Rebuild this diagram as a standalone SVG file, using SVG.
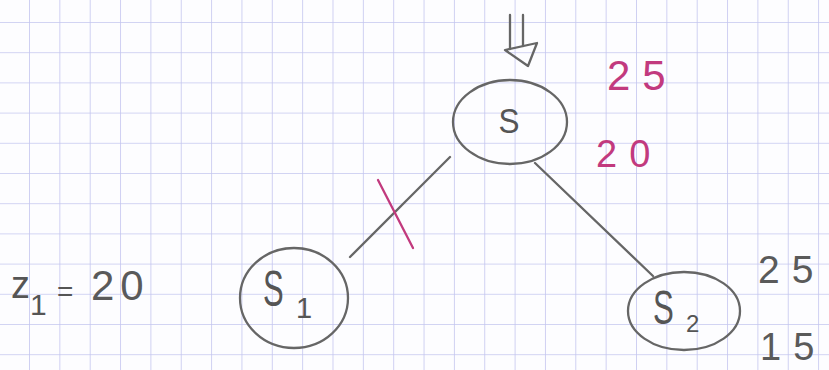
<svg xmlns="http://www.w3.org/2000/svg" width="829" height="370" viewBox="0 0 829 370">
<defs>
<pattern id="grid" x="29" y="22" width="30.35" height="30.2" patternUnits="userSpaceOnUse">
<path d="M0 0V30.2M0 0H30.35" fill="none" stroke="#c4c6ef" stroke-width="1.6"/>
</pattern>
</defs>
<style>
.pencil{fill:none;stroke:#666;stroke-width:2.3;stroke-linecap:round;stroke-linejoin:round}
.pen{fill:none;stroke:#c23a7e;stroke-width:2.3;stroke-linecap:round}
.lbl{font-family:"Liberation Sans",Arial,sans-serif;fill:#555;}
.mag{font-family:"Liberation Sans",Arial,sans-serif;fill:#c23a7e;letter-spacing:12px}
.num{font-family:"Liberation Sans",Arial,sans-serif;fill:#5a5a5a;letter-spacing:12px}
</style>
<rect width="829" height="370" fill="#fdfdff"/>
<rect width="829" height="370" fill="url(#grid)"/>
<g id="connectors">
<line class="pencil" x1="450" y1="157" x2="350" y2="257"/>
<line class="pen" x1="378" y1="180" x2="413" y2="248"/>
<line class="pencil" x1="535" y1="163" x2="653" y2="276"/>
</g>
<g id="start-arrow">
<line class="pencil" x1="510" y1="15" x2="510" y2="49"/>
<line class="pencil" x1="523" y1="15" x2="523" y2="46"/>
<polygon class="pencil" points="505,50 537,43 528,66"/>
</g>
<g id="node-S">
<ellipse class="pencil" cx="510" cy="122" rx="57" ry="42"/>
<text class="lbl" transform="translate(509,133) scale(0.9,1)" font-size="35" text-anchor="middle">S</text>
<text class="mag" x="607" y="90" font-size="42">25</text>
<text class="mag" x="596" y="167" font-size="38">20</text>
</g>
<g id="node-S1">
<ellipse class="pencil" cx="294" cy="298" rx="54" ry="50"/>
<text class="lbl" transform="translate(263,306) scale(0.62,1)" font-size="50">S</text>
<text class="lbl" x="296" y="318" font-size="29">1</text>
</g>
<g id="node-S2">
<ellipse class="pencil" cx="684" cy="311" rx="56" ry="39"/>
<text class="lbl" transform="translate(653,324) scale(0.65,1)" font-size="48">S</text>
<text class="lbl" x="686" y="332" font-size="24">2</text>
<text class="num" x="758" y="283" font-size="39">25</text>
<text class="num" x="760" y="360" font-size="38">15</text>
</g>
<g id="label-z1">
<text class="lbl" x="11" y="298" font-size="38">z</text>
<text class="lbl" x="30" y="315" font-size="30">1</text>
<text class="lbl" x="57" y="301" font-size="28">=</text>
<text class="num" x="91" y="300" font-size="42" style="letter-spacing:6px">20</text>
</g>
</svg>
